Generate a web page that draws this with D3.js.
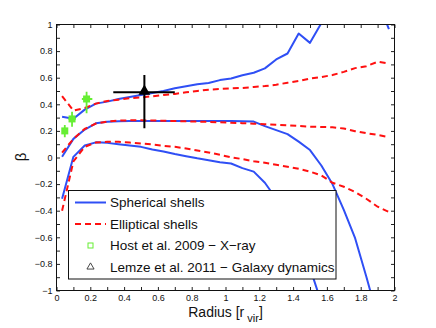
<!DOCTYPE html>
<html>
<head>
<meta charset="utf-8">
<script src="https://cdnjs.cloudflare.com/ajax/libs/d3/7.8.5/d3.min.js"></script>
<style>
body { margin: 0; background: #fff; }
svg text { font-family: "Liberation Sans", Arial, Helvetica, sans-serif; fill: #111; }
</style>
</head>
<body>
<div id="chart"></div>
<script>
// Radial bins [r_vir]
var radius = [0.033, 0.1, 0.167, 0.233, 0.3, 0.367, 0.433, 0.5, 0.567, 0.633,
              0.7, 0.767, 0.833, 0.9, 0.967, 1.033, 1.1, 1.167, 1.233, 1.3,
              1.367, 1.433, 1.5, 1.567, 1.633, 1.7, 1.767, 1.833, 1.9, 1.967];

// Spherical shells (upper / middle / lower curve)
var sphUpper  = [0.306, 0.292, 0.36, 0.405, 0.42, 0.44, 0.455, 0.47, 0.485, 0.50,
                 0.52, 0.535, 0.55, 0.56, 0.582, 0.594, 0.619, 0.637, 0.67, 0.737,
                 0.782, 0.932, 0.862, 1.01, 1.15, 1.2, 1.2, 1.25, 1.18, 0.965];
var sphMiddle = [0.006, 0.14, 0.21, 0.257, 0.268, 0.272, 0.274, 0.275, 0.275, 0.275,
                 0.275, 0.275, 0.275, 0.274, 0.274, 0.274, 0.273, 0.27, 0.236, 0.206,
                 0.176, 0.119, 0.056, -0.06, -0.2, -0.394, -0.607, -0.895, -1.2, null];
var sphLower  = [-0.31, 0.005, 0.09, 0.114, 0.11, 0.10, 0.09, 0.08, 0.06, 0.045,
                 0.026, 0.01, -0.006, -0.02, -0.035, -0.045, -0.08, -0.106, -0.19, -0.31,
                 -0.5, -0.68, -0.83, -1.09, null, null, null, null, null, null];

// Elliptical shells (upper / middle / lower curve)
var ellUpper  = [0.462, 0.352, 0.372, 0.405, 0.425, 0.435, 0.445, 0.452, 0.46, 0.47,
                 0.478, 0.49, 0.50, 0.51, 0.515, 0.52, 0.523, 0.53, 0.537, 0.547,
                 0.562, 0.575, 0.594, 0.605, 0.62, 0.644, 0.672, 0.686, 0.72, 0.707];
var ellMiddle = [0.036, 0.14, 0.215, 0.255, 0.27, 0.277, 0.28, 0.28, 0.278, 0.276,
                 0.274, 0.272, 0.27, 0.268, 0.265, 0.262, 0.258, 0.254, 0.25, 0.246,
                 0.242, 0.237, 0.232, 0.23, 0.227, 0.218, 0.198, 0.183, 0.17, 0.153];
var ellLower  = [-0.40, -0.03, 0.08, 0.113, 0.118, 0.118, 0.112, 0.105, 0.098, 0.088,
                 0.08, 0.068, 0.053, 0.038, 0.02, 0.002, -0.012, -0.028, -0.04, -0.055,
                 -0.07, -0.085, -0.106, -0.135, -0.19, -0.22, -0.26, -0.31, -0.37, -0.41];

// Host et al. 2009 - X-ray
var hostR       = [0.049, 0.092, 0.178];
var hostRLo     = [0.04, 0.07, 0.15];
var hostRHi     = [0.058, 0.115, 0.212];
var hostBeta    = [0.20, 0.29, 0.44];
var hostBetaLo  = [0.152, 0.231, 0.332];
var hostBetaHi  = [0.244, 0.344, 0.494];

// Lemze et al. 2011 - Galaxy dynamics
var lemzeR      = [0.52];
var lemzeRLo    = [0.336];
var lemzeRHi    = [0.70];
var lemzeBeta   = [0.49];
var lemzeBetaLo = [0.22];
var lemzeBetaHi = [0.62];

// Ticks
var xLabelTicks = [0, 0.2, 0.4, 0.6, 0.8, 1, 1.2, 1.4, 1.6, 1.8, 2];
var yLabelTicks = [-1, -0.8, -0.6, -0.4, -0.2, 0, 0.2, 0.4, 0.6, 0.8, 1];
var legendLabels = ["Spherical shells", "Elliptical shells",
                    "Host et al. 2009 \u2212 X\u2212ray",
                    "Lemze et al. 2011 \u2212 Galaxy dynamics"];

var blue = "#2f4ff5", red = "#ff1010", green = "#66ee33";

var dim = { width: 436, height: 328, left: 56.5, top: 24.5, w: 338, h: 266 };

var svg = d3.select("#chart")
            .append("svg")
                .attr("width", dim.width)
                .attr("height", dim.height);

var x = d3.scaleLinear().domain([0, 2]).range([dim.left, dim.left + dim.w]);
var y = d3.scaleLinear().domain([-1, 1]).range([dim.top + dim.h, dim.top]);

// tick label format: only labelled ticks get text, MATLAB style minus sign
function fmtFor(labels) {
    return function(d) {
        var hit = labels.find(function(v) { return Math.abs(v - d) < 1e-6; });
        if (hit === undefined) return "";
        return (hit < 0 ? "\u2212" : "") + Math.abs(hit);
    };
}
var minorX = d3.range(0, 21).map(function(i) { return i / 10; });
var minorY = d3.range(-10, 11).map(function(i) { return i / 10; });

// Axes with inward ticks on all four sides
svg.append("g")
   .attr("transform", `translate(0, ${dim.top + dim.h})`)
   .call(d3.axisBottom(x).tickValues(minorX).tickFormat(fmtFor(xLabelTicks)).tickSizeInner(-3.5).tickSizeOuter(0).tickPadding(4))
   .call(function(g) { g.select(".domain").remove(); });
svg.append("g")
   .attr("transform", `translate(0, ${dim.top})`)
   .call(d3.axisTop(x).tickValues(minorX).tickFormat("").tickSizeInner(-3.5).tickSizeOuter(0))
   .call(function(g) { g.select(".domain").remove(); });
svg.append("g")
   .attr("transform", `translate(${dim.left}, 0)`)
   .call(d3.axisLeft(y).tickValues(minorY).tickFormat(fmtFor(yLabelTicks)).tickSizeInner(-3.5).tickSizeOuter(0).tickPadding(4))
   .call(function(g) { g.select(".domain").remove(); });
svg.append("g")
   .attr("transform", `translate(${dim.left + dim.w}, 0)`)
   .call(d3.axisRight(y).tickValues(minorY).tickFormat("").tickSizeInner(-3.5).tickSizeOuter(0))
   .call(function(g) { g.select(".domain").remove(); });

svg.selectAll(".tick text").style("font-size", "9px").style("font-family", null);
svg.selectAll(".tick line").attr("stroke", "#222");

// Clip region for curves
svg.append("clipPath").attr("id", "plotclip")
   .append("rect")
       .attr("x", dim.left).attr("y", dim.top)
       .attr("width", dim.w).attr("height", dim.h);

var plot = svg.append("g").attr("clip-path", "url(#plotclip)");

var line = d3.line()
             .defined(function(d) { return d[1] !== null; })
             .x(function(d) { return x(d[0]); })
             .y(function(d) { return y(d[1]); });

function series(vals) {
    return radius.map(function(r, i) { return [r, vals[i]]; });
}

// Spherical shells, then elliptical shells on top
[sphUpper, sphMiddle, sphLower].forEach(function(s) {
    plot.append("path")
        .attr("d", line(series(s)))
        .attr("fill", "none")
        .attr("stroke", blue)
        .attr("stroke-width", 2)
        .attr("stroke-linejoin", "round");
});
[ellUpper, ellMiddle, ellLower].forEach(function(s) {
    plot.append("path")
        .attr("d", line(series(s)))
        .attr("fill", "none")
        .attr("stroke", red)
        .attr("stroke-width", 2)
        .attr("stroke-dasharray", "6,4");
});

// Host et al. error bars
hostR.forEach(function(r, i) {
    plot.append("line")
        .attr("x1", x(r)).attr("x2", x(r))
        .attr("y1", y(hostBetaLo[i])).attr("y2", y(hostBetaHi[i]))
        .attr("stroke", green).attr("stroke-width", 1.8);
    plot.append("line")
        .attr("x1", x(hostRLo[i])).attr("x2", x(hostRHi[i]))
        .attr("y1", y(hostBeta[i])).attr("y2", y(hostBeta[i]))
        .attr("stroke", green).attr("stroke-width", 1.8);
    plot.append("rect")
        .attr("x", x(r) - 3.5).attr("y", y(hostBeta[i]) - 3.5)
        .attr("width", 7).attr("height", 7)
        .attr("fill", green);
});

// Lemze et al. error bars
lemzeR.forEach(function(r, i) {
    plot.append("line")
        .attr("x1", x(r)).attr("x2", x(r))
        .attr("y1", y(lemzeBetaLo[i])).attr("y2", y(lemzeBetaHi[i]))
        .attr("stroke", "#000").attr("stroke-width", 2);
    plot.append("line")
        .attr("x1", x(lemzeRLo[i])).attr("x2", x(lemzeRHi[i]))
        .attr("y1", y(lemzeBeta[i])).attr("y2", y(lemzeBeta[i]))
        .attr("stroke", "#000").attr("stroke-width", 2);
    plot.append("path")
        .attr("d", d3.symbol(d3.symbolTriangle, 60)())
        .attr("transform", `translate(${x(r)}, ${y(lemzeBeta[i]) - 1})`)
        .attr("fill", "#000");
});

// Axes box
svg.append("rect")
   .attr("x", dim.left).attr("y", dim.top)
   .attr("width", dim.w).attr("height", dim.h)
   .attr("fill", "none").attr("stroke", "#111");

// Axis labels
var xl = svg.append("text")
            .attr("x", dim.left + dim.w / 2)
            .attr("y", 316.5)
            .attr("text-anchor", "middle")
            .style("font-size", "14px");
xl.append("tspan").text("Radius [r");
xl.append("tspan").attr("dx", 3).attr("dy", 5).style("font-size", "11px").text("vir");
xl.append("tspan").attr("dy", -5).text("]");

svg.append("text")
   .attr("transform", "translate(26, 157) rotate(-90)")
   .attr("text-anchor", "middle")
   .style("font-size", "15px")
   .text("\u03b2");

// Legend
var leg = svg.append("g");
leg.append("rect")
   .attr("x", 68.5).attr("y", 190.5)
   .attr("width", 267.5).attr("height", 88.5)
   .attr("fill", "#fff").attr("stroke", "#111");

var rowY = [202.5, 224, 245.5, 267];
leg.append("line").attr("x1", 75).attr("x2", 106).attr("y1", rowY[0]).attr("y2", rowY[0])
   .attr("stroke", blue).attr("stroke-width", 2);
leg.append("line").attr("x1", 75).attr("x2", 106).attr("y1", rowY[1]).attr("y2", rowY[1])
   .attr("stroke", red).attr("stroke-width", 2).attr("stroke-dasharray", "6,4");
leg.append("rect").attr("x", 88).attr("y", rowY[2] - 2.5).attr("width", 5).attr("height", 5)
   .attr("fill", "none").attr("stroke", green).attr("stroke-width", 1);
leg.append("path")
   .attr("d", d3.symbol(d3.symbolTriangle, 22)())
   .attr("transform", `translate(90.5, ${rowY[3]})`)
   .attr("fill", "none").attr("stroke", "#333").attr("stroke-width", 0.9);

leg.selectAll("text.lab")
   .data(legendLabels)
   .enter()
   .append("text")
       .attr("class", "lab")
       .attr("x", 110)
       .attr("y", function(d, i) { return rowY[i]; })
       .attr("dominant-baseline", "central")
       .style("font-size", "13.5px")
       .text(function(d) { return d; });
</script>
</body>
</html>
